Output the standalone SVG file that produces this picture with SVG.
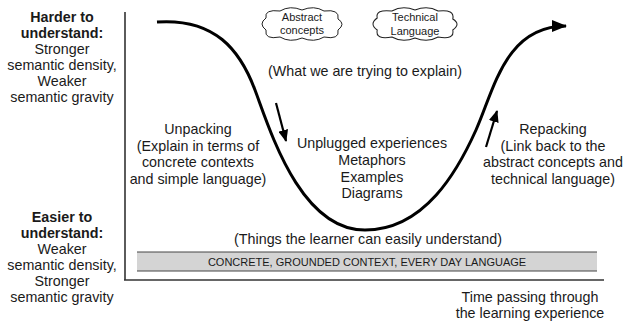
<svg xmlns="http://www.w3.org/2000/svg" xmlns:xlink="http://www.w3.org/1999/xlink" width="631" height="326" viewBox="0 0 631 326">
<style>
text{font-family:"Liberation Sans",Arial,sans-serif;fill:#1a1a1a;text-anchor:middle}
.t{font-size:14.3px}
.b{font-weight:bold}
.s{font-size:11px}
.axis{stroke:#333;stroke-width:1.6;fill:none}
.curve{stroke:#000;stroke-width:3;fill:none}
.arr{stroke:#000;stroke-width:2.2;fill:none}
.cloud{fill:#fff;stroke:#222;stroke-width:1}
</style>
<defs>
<marker id="bigHead" markerUnits="userSpaceOnUse" markerWidth="16" markerHeight="12" refX="14" refY="6" orient="auto">
<path d="M0,0 L15,6 L0,12 Z" fill="#000"/>
</marker>
<marker id="smallHead" markerUnits="userSpaceOnUse" markerWidth="12" markerHeight="10" refX="11" refY="5" orient="auto">
<path d="M0,0 L12,5 L0,10 Z" fill="#000"/>
</marker>
<path id="cloudShape" d="M-36,-6 Q-38,-15 -22,-13 Q-12,-19 0,-14 Q12,-19 22,-13 Q38,-15 36,-5 Q44,0 36,6 Q38,16 22,13 Q12,19 0,14 Q-12,19 -22,13 Q-38,16 -36,6 Q-44,0 -36,-6 Z"/>
</defs>

<g id="axes">
<line class="axis" x1="125" y1="12" x2="125" y2="280"/>
<line class="axis" x1="124" y1="280" x2="604" y2="280"/>
</g>

<g id="ground-bar">
<rect x="137" y="252" width="460" height="19" fill="#d4d4d4"/>
<line x1="137" y1="252" x2="597" y2="252" stroke="#444" stroke-width="1"/>
<line x1="137" y1="271" x2="597" y2="271" stroke="#444" stroke-width="1"/>
<text class="s" x="367" y="266">CONCRETE, GROUNDED CONTEXT, EVERY DAY LANGUAGE</text>
</g>

<g id="connectors">
<path class="curve" marker-end="url(#bigHead)" d="M157,22 C215,18 240,50 255,90 C270,130 300,230 365,230 C425,230 458,170 476,130 C494,90 505,26 566,26"/>
<line class="arr" marker-end="url(#smallHead)" x1="276" y1="103" x2="286" y2="141"/>
<line class="arr" marker-end="url(#smallHead)" x1="486" y1="147" x2="497" y2="111"/>
</g>

<g id="harder-label">
<text class="t b" x="62" y="22">Harder to</text>
<text class="t b" x="62" y="38">understand:</text>
<text class="t" x="62" y="54">Stronger</text>
<text class="t" x="62" y="70">semantic density,</text>
<text class="t" x="62" y="86">Weaker</text>
<text class="t" x="62" y="102">semantic gravity</text>
</g>

<g id="easier-label">
<text class="t b" x="62" y="222">Easier to</text>
<text class="t b" x="62" y="238">understand:</text>
<text class="t" x="62" y="254">Weaker</text>
<text class="t" x="62" y="270">semantic density,</text>
<text class="t" x="62" y="286">Stronger</text>
<text class="t" x="62" y="302">semantic gravity</text>
</g>

<g id="cloud-abstract">
<use xlink:href="#cloudShape" class="cloud" transform="translate(302,24)"/>
<text class="s" x="302" y="21">Abstract</text>
<text class="s" x="302" y="34">concepts</text>
</g>

<g id="cloud-technical">
<use xlink:href="#cloudShape" class="cloud" transform="translate(415,24) scale(1.05,1)"/>
<text class="s" x="415" y="21">Technical</text>
<text class="s" x="415" y="35">Language</text>
</g>

<g id="explain-label">
<text class="t" x="365" y="76">(What we are trying to explain)</text>
</g>

<g id="unpacking-label">
<text class="t" x="198" y="134">Unpacking</text>
<text class="t" x="198" y="151">(Explain in terms of</text>
<text class="t" x="198" y="167">concrete contexts</text>
<text class="t" x="198" y="184">and simple language)</text>
</g>

<g id="middle-label">
<text class="t" x="372" y="148">Unplugged experiences</text>
<text class="t" x="372" y="165">Metaphors</text>
<text class="t" x="372" y="182">Examples</text>
<text class="t" x="372" y="198">Diagrams</text>
</g>

<g id="repacking-label">
<text class="t" x="553" y="134">Repacking</text>
<text class="t" x="553" y="151">(Link back to the</text>
<text class="t" x="553" y="167">abstract concepts and</text>
<text class="t" x="553" y="184">technical language)</text>
</g>

<g id="easy-label">
<text class="t" x="368" y="244">(Things the learner can easily understand)</text>
</g>

<g id="time-label">
<text class="t" x="530" y="302">Time passing through</text>
<text class="t" x="530" y="318">the learning experience</text>
</g>
</svg>
